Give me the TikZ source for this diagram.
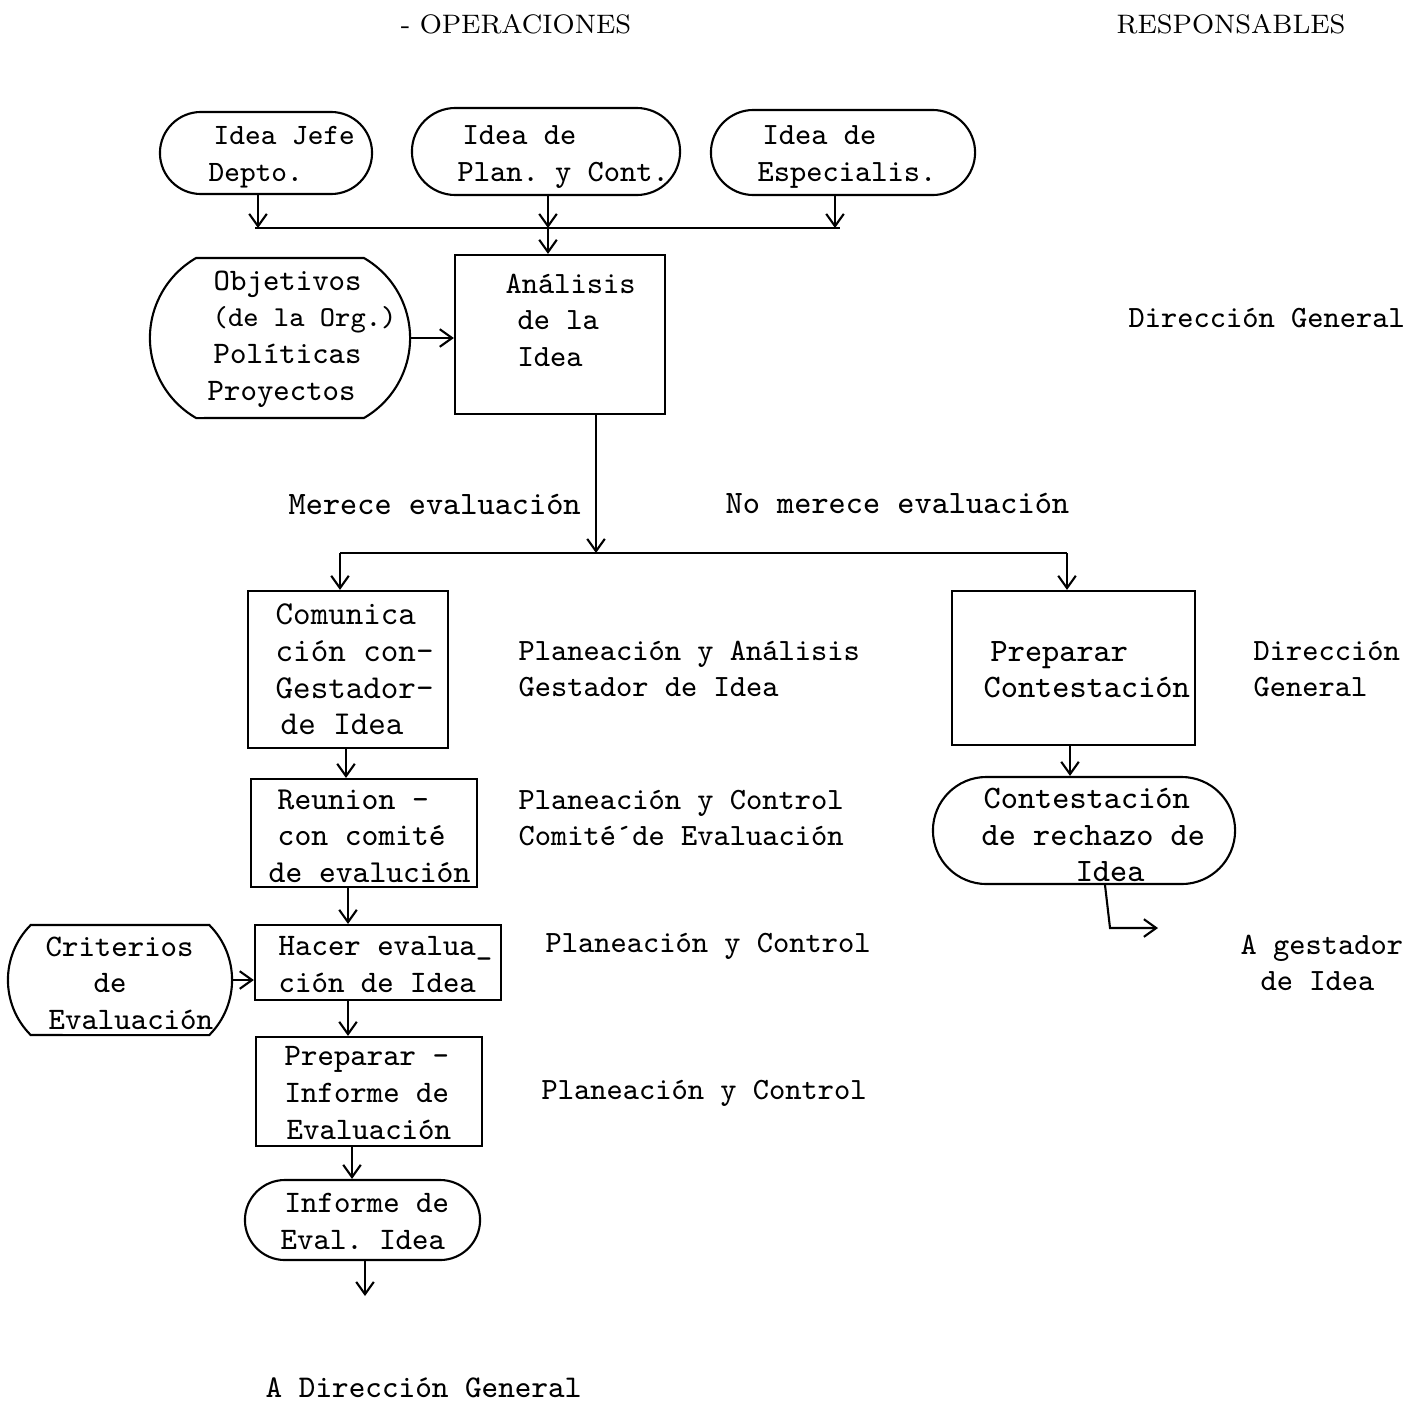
\documentclass[tikz,border=0pt]{standalone}
\usepackage{fontspec}
\usetikzlibrary{arrows.meta,shapes.misc,calc}
\newcommand\fs[1]{\fontsize{#1}{10.4}\selectfont}
\newcommand\ind[1]{\hspace*{#1cm}}
\begin{document}
\frenchspacing
\begin{tikzpicture}[x=0.01cm,y=-0.01cm,
  every node/.style={font=\ttfamily\fs{8.8}, inner sep=0pt, align=left},
  ln/.style={line width=0.6pt},
  arr/.style={ln,-{Straight Barb[length=3.5pt,width=5pt]}},
  boxx/.style={draw,ln,rectangle},
  term/.style={draw,ln,rounded rectangle},
  bulge/.style={draw,ln,rounded rectangle,rounded rectangle arc length=120},
  txt/.style={anchor=west},
  lbl/.style={anchor=west},
  hdr/.style={font=\rmfamily\fontsize{7.6}{9}\selectfont}
]
\useasboundingbox (0,0) rectangle (1419,1403);

% headers
\node[hdr] (h1) at (516,24) {- OPERACIONES};
\node[hdr] (h2) at (1231,24) {RESPONSABLES};

% top terminals
\node[term,minimum width=2.12cm,minimum height=0.82cm] (t1) at (266,153) {};
\node[txt,font=\ttfamily\fs{8.4}] (t1t) at (208,157) {\ind{0.05}Idea Jefe\\Depto.};
\node[term,minimum width=2.68cm,minimum height=0.87cm] (t2) at (546,151.5) {};
\node[txt] (t2t) at (457,157) {\ind{0.05}Idea de\\Plan. y Cont.};
\node[term,minimum width=2.64cm,minimum height=0.85cm] (t3) at (843,152.5) {};
\node[txt] (t3t) at (757,157) {\ind{0.05}Idea de\\Especialis.};

\coordinate (j1) at (258,228);
\coordinate (j2) at (548,228);
\coordinate (j3) at (835,228);
\coordinate (jl) at (255,228);
\coordinate (jr) at (840,228);

\node[bulge,minimum width=2.6cm,minimum height=1.6cm] (obj) at (280,338) {};
\node[txt,font=\ttfamily\fs{8.9}] (objt) at (207,339)
  {\ind{0.06}Objetivos\\\ind{0.05}{\fs{8.2}(de la Org.)}\\\ind{0.06}Políticas\\Proyectos};
\node[boxx,minimum width=2.1cm,minimum height=1.59cm] (ana) at (560,334.5) {};
\node[txt] (anat) at (505,320) {Análisis\\\ind{0.12}de la\\\ind{0.12}Idea};

\draw[arr] (t1.south -| j1) -- (j1);
\draw[arr] (t2.south -| j2) -- (j2);
\draw[arr] (t3.south -| j3) -- (j3);
\draw[ln] (jl) -- (jr);
\draw[arr] (j2) -- (j2 |- ana.north);
\draw[arr] (obj.east) -- (obj.east -| ana.west);

% split
\coordinate (sp) at (596,553);
\coordinate (sl) at (340,553);
\coordinate (sr) at (1067,553);
\draw[arr] (ana.south -| sp) -- (sp);
\draw[ln] (sl) -- (sr);

\node[lbl,font=\ttfamily\fs{9.3}] (m1) at (288,504) {Merece evaluación};
\node[lbl,font=\ttfamily\fs{9.3}] (m2) at (725,503) {No merece evaluación};

% left column
\node[boxx,minimum width=2.0cm,minimum height=1.57cm] (com) at (348,669.5) {};
\node[txt,font=\ttfamily\fs{9.5}] (comt) at (275,669.5)
  {Comunica\\ción con-\\Gestador-\\\ind{0.05}de Idea};
\node[boxx,minimum width=2.26cm,minimum height=1.08cm] (reu) at (364,833) {};
\node[txt,font=\ttfamily\fs{9.1}] (reut) at (268,836)
  {\ind{0.09}Reunion -\\\ind{0.09}con comité\\de evalución};
\node[boxx,minimum width=2.46cm,minimum height=0.75cm] (hac) at (378,962.5) {};
\node[txt,font=\ttfamily\fs{8.9}] (hact) at (278,964.5) {Hacer evalua\_\\ción de Idea};
\node[draw,ln,rounded rectangle,rounded rectangle arc length=90,minimum width=2.24cm,minimum height=1.1cm] (cri) at (120,980) {};
\node[txt,font=\ttfamily\fs{8.9}] (crit) at (45,983)
  {Criterios\\\ind{0.48}de\\\ind{0.03}Evaluación};
\node[boxx,minimum width=2.26cm,minimum height=1.09cm] (pre) at (369,1091.5) {};
\node[txt,font=\ttfamily\fs{8.9}] (pret) at (284,1093)
  {Preparar -\\Informe de\\\ind{0.02}Evaluación};
\node[term,minimum width=2.35cm,minimum height=0.8cm] (inf) at (362.5,1220) {};
\node[txt,font=\ttfamily\fs{8.9}] (inft) at (280,1221.5) {\ind{0.04}Informe de\\Eval. Idea};
\coordinate (fin) at (365,1296);

\draw[arr] (sl) -- (sl |- com.north);
\draw[arr] (com.south -| 346,0) -- (reu.north -| 346,0);
\draw[arr] (reu.south -| 348,0) -- (hac.north -| 348,0);
\draw[arr] (cri.east) -- (cri.east -| hac.west);
\draw[arr] (hac.south -| 348,0) -- (pre.north -| 348,0);
\draw[arr] (pre.south -| 352,0) -- (inf.north -| 352,0);
\draw[arr] (inf.south -| fin) -- (fin);

\node[lbl,font=\ttfamily\fs{9.0}] (af) at (265,1388) {A Dirección General};

% right column
\node[boxx,minimum width=2.43cm,minimum height=1.54cm] (pc) at (1073.5,668) {};
\node[txt,font=\ttfamily\fs{9.3}] (pct) at (983,669.5) {\ind{0.07}Preparar\\Contestación};
\node[term,minimum width=3.02cm,minimum height=1.07cm] (con) at (1084,830.5) {};
\node[txt,font=\ttfamily\fs{9.3}] (cont) at (981,835)
  {\ind{0.02}Contestación\\de rechazo de\\\ind{0.94}Idea};
\draw[arr] (sr) -- (sr |- pc.north);
\draw[arr] (pc.south -| 1070,0) -- (con.north -| 1070,0);
\coordinate (k1) at (1110,928);
\coordinate (k2) at (1158,928);
\draw[arr] ($(con.south)+(21,0)$) -- (k1) -- (k2);

% responsables
\node[lbl] (r1) at (1128,318) {Dirección General};
\node[lbl] (r2) at (518,669) {Planeación y Análisis\\Gestador de Idea};
\node[lbl] (r3) at (1253,669) {Dirección\\General};
\node[lbl] (r4) at (518,818) {Planeación y Control\\Comité´de Evaluación};
\node[lbl] (r5) at (545,946) {Planeación y Control};
\node[lbl] (r6) at (541,1093) {Planeación y Control};
\node[lbl] (r7) at (1240,963) {A gestador\\\ind{0.2}de Idea};
\end{tikzpicture}
\end{document}
